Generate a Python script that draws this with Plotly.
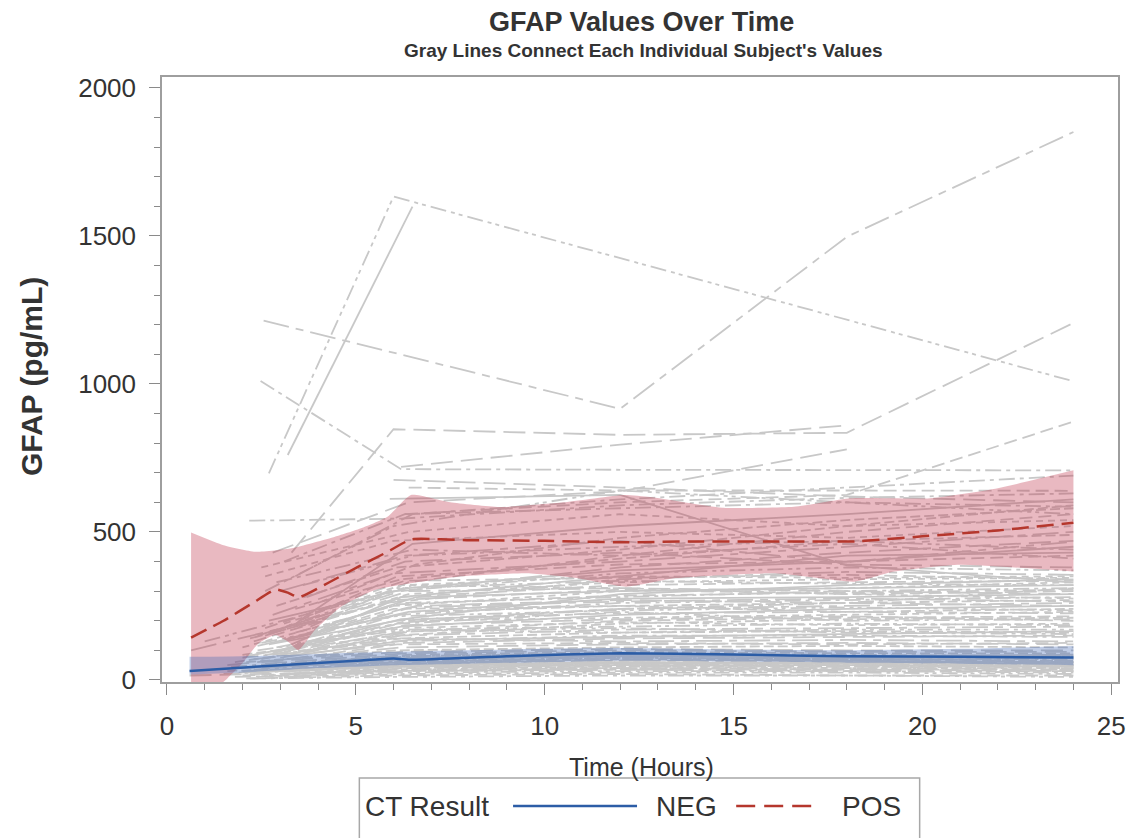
import plotly.graph_objects as go

# ---------------- data ----------------
# each subject row: (first_hour, first_gfap, second_hour, second_gfap, gfap_12h, gfap_18h, gfap_24h)
LATE_VISIT_HOURS = [12.0, 18.0, 24.0]

high_subjects = [
    (2.7, 698, 6.0, 1633, None, None, 1009),
    (3.2, 760, 6.5, 1599, None, None, None),
    (2.56, 1214, None, None, 916, 1497, 1851),
    (2.48, 1010, 6.2, 712, 710, 708, 708),
    (3.3, 430, 6.0, 847, 828, 835, 1206),
    (None, None, 6.2, 720, 795, 860, None),
    (None, None, 6.3, 560, 600, 625, 873),
    (2.8, 430, 6.4, 600, 637, 779, None),
    (None, None, 5.9, 612, 625, 387, 329),
    (None, None, 6.4, 650, 640, 640, 639),
    (2.18, 538, 6.2, 545, 590, 615, 630),
]

upper_mid_subjects = [
    (None, None, 6.0, 676, 650, 620, 600),
    (3.4, 350, 6.5, 560, 610, 650, 690),
    (2.6, 300, 6.0, 520, 640, 600, 560),
]

mid_subjects = [
    (3.0, 300, 6.3, 420, 470, 398, 467),
    (2.9, 250, 6.1, 380, 440, 520, 590),
    (3.5, 200, 6.5, 460, 520, 560, 610),
    (2.6, 350, 6.0, 470, 500, 480, 520),
    (3.8, 180, 6.4, 330, 420, 500, 560),
    (2.4, 150, 6.2, 300, 380, 430, 470),
    (3.1, 400, 6.3, 560, 580, 600, 585),
    (3.6, 320, 6.5, 420, 450, 470, 440),
    (2.8, 220, 6.0, 360, 400, 450, 500),
    (4.0, 260, 6.6, 390, 480, 540, 580),
    (3.3, 120, 6.2, 280, 350, 420, 430),
    (2.5, 380, 6.4, 500, 560, 520, 540),
    (3.0, 170, 6.1, 350, 390, 400, 420),
    (3.7, 280, 6.3, 400, 430, 390, 380),
    (2.9, 330, 6.5, 440, 420, 460, 410),
    (1.0, 130, 6.0, 300, 360, 380, 370),
    (0.64, 100, 5.8, 260, 340, 365, 355),
    (3.4, 240, 6.2, 340, 410, 470, 490),
    (2.7, 200, 6.4, 310, 370, 400, 450),
]

low_subjects = [
    (2.0, 110, 6.0, 250, 300, 310, 330),
    (2.3, 130, 6.2, 280, 320, 330, 335),
    (2.6, 150, 6.4, 300, 310, 300, 290),
    (3.0, 100, 6.1, 220, 260, 270, 280),
    (3.4, 160, 6.3, 260, 280, 300, 310),
    (2.8, 90, 6.0, 200, 240, 250, 260),
    (3.2, 140, 6.5, 230, 250, 230, 240),
    (2.1, 80, 6.2, 180, 220, 240, 250),
    (3.6, 120, 6.4, 200, 210, 220, 230),
    (2.5, 70, 6.0, 160, 200, 210, 215),
    (3.9, 150, 6.6, 250, 270, 260, 250),
    (2.9, 110, 6.1, 190, 230, 200, 205),
    (2.4, 100, 6.3, 170, 180, 190, 185),
    (3.3, 90, 6.2, 150, 170, 175, 180),
    (1.8, 60, 6.0, 140, 160, 165, 160),
    (2.7, 120, 6.5, 210, 290, 320, 340),
    (3.5, 180, 6.4, 290, 330, 340, 345),
    (2.2, 140, 6.1, 270, 305, 290, 300),
    (3.1, 95, 6.3, 185, 205, 215, 200),
    (2.0, 75, 6.0, 130, 150, 150, 145),
    (3.8, 110, 6.6, 170, 160, 170, 170),
    (2.6, 85, 6.2, 140, 130, 135, 130),
    (3.0, 130, 6.0, 240, 250, 260, 270),
    (2.4, 115, 6.4, 230, 275, 280, 290),
    (3.7, 200, 6.5, 320, 310, 290, 275),
    (2.9, 65, 6.1, 120, 125, 120, 125),
    (1.6, 50, 6.2, 110, 120, 125, 120),
    (3.3, 105, 6.3, 195, 240, 260, 310),
    (2.5, 125, 6.0, 215, 235, 245, 235),
    (3.5, 145, 6.4, 245, 265, 275, 265),
    (2.1, 60, 6.1, 100, 110, 115, 110),
    (3.9, 170, 6.6, 280, 300, 310, 320),
    (2.8, 95, 6.2, 175, 195, 185, 190),
    (3.2, 135, 6.0, 255, 285, 295, 305),
    (2.3, 70, 6.3, 125, 140, 145, 150),
    (3.6, 90, 6.5, 165, 175, 160, 155),
    (2.7, 160, 6.1, 310, 335, 325, 320),
    (3.4, 115, 6.2, 205, 225, 230, 225),
    (2.0, 85, 6.0, 150, 190, 205, 210),
    (3.0, 75, 6.4, 135, 145, 155, 165),
    (3.1, 190, 6.2, 320, 350, 345, 350),
    (2.6, 175, 6.3, 335, 345, 355, 340),
]

floor_subjects = [
    (0.6, 15, 6.0, 30, 40, 35, 30),
    (1.5, 20, 6.1, 45, 55, 50, 50),
    (1.8, 10, 6.2, 25, 30, 30, 25),
    (2.0, 30, 6.3, 55, 70, 65, 60),
    (2.2, 25, 6.0, 50, 60, 55, 55),
    (2.5, 40, 6.4, 70, 80, 75, 75),
    (2.7, 15, 6.1, 35, 45, 40, 40),
    (3.0, 35, 6.2, 60, 75, 70, 65),
    (3.2, 20, 6.5, 40, 50, 45, 45),
    (1.7, 45, 6.0, 80, 90, 85, 80),
    (2.4, 10, 6.3, 20, 25, 25, 20),
    (3.5, 30, 6.1, 55, 65, 60, 60),
    (2.9, 50, 6.4, 85, 95, 90, 90),
    (1.9, 25, 6.2, 45, 50, 50, 45),
    (3.8, 40, 6.6, 65, 70, 70, 65),
    (2.1, 5, 6.0, 15, 20, 15, 15),
    (2.6, 55, 6.3, 90, 100, 95, 95),
    (3.3, 20, 6.2, 35, 40, 40, 35),
    (2.3, 35, 6.1, 65, 75, 70, 70),
    (3.1, 10, 6.4, 30, 35, 30, 30),
    (1.6, 30, 6.0, 50, 60, 55, 50),
    (2.8, 45, 6.5, 75, 85, 80, 85),
    (3.6, 25, 6.3, 45, 55, 50, 50),
    (2.0, 15, 6.1, 30, 35, 35, 35),
    (2.5, 60, 6.2, 95, 105, 100, 100),
    (3.4, 50, 6.4, 80, 90, 80, 80),
    (2.2, 5, 6.0, 10, 15, 15, 10),
    (1.8, 40, 6.3, 60, 65, 65, 60),
    (3.0, 20, 6.1, 40, 45, 45, 40),
    (2.6, 30, 6.2, 50, 55, 60, 55),
]

# smoothed fits and confidence bands
pos_fit_hours = [0.64, 1.5, 2.3, 2.88, 3.2, 3.49, 4.3, 5.07, 5.8, 6.47, 8, 10, 12.07, 14, 16, 18.2, 20, 22, 24]
pos_fit_gfap = [143, 200, 262, 306, 295, 279, 330, 383, 430, 475, 472, 470, 465, 468, 468, 468, 485, 505, 531]

pos_upper_hours = [0.64, 1.5, 2.34, 3.3, 4.45, 5.2, 5.85, 6.46, 7.5, 8.8, 10.5, 12.1, 12.8, 14.7, 16.6, 18.1, 20.2, 22.0, 24.0]
pos_upper_gfap = [498, 455, 433, 445, 484, 515, 552, 625, 600, 584, 600, 625, 618, 582, 585, 614, 614, 648, 708]
pos_lower_hours = [0.64, 1.1, 1.6, 2.0, 2.43, 2.87, 3.2, 3.48, 3.92, 4.62, 5.5, 6.46, 7.69, 9.53, 10.84, 12.16, 13.47, 16.1, 18.2, 19.26, 21.0, 24.0]
pos_lower_gfap = [-60, -45, 5, 56, 124, 152, 130, 101, 169, 248, 304, 327, 349, 360, 344, 315, 344, 360, 332, 366, 389, 366]

neg_fit_hours = [0.6, 3, 5, 6.0, 6.5, 9, 12, 15, 18, 21, 24]
neg_fit_gfap = [30, 50, 65, 72, 68, 80, 90, 86, 80, 78, 76]
neg_band_hours = [0.6, 2, 4, 6, 8, 10, 12, 15, 18, 21, 24]
neg_band_upper = [78, 80, 88, 95, 100, 105, 108, 103, 100, 105, 115]
neg_band_lower = [18, 25, 40, 50, 55, 60, 65, 62, 58, 55, 50]

legend_labels = ["NEG", "POS"]

# ---------------- styling ----------------
FONT = "Liberation Sans, Arial, Helvetica, sans-serif"
TXT = "#333333"
GRAY = "#C8C8C8"
RED = "#B5372D"
BLUE = "#2C5DA6"
PATTERNS = ["solid", "7px,5px", "13px,6px", "22px,8px", "16px,5px,4px,5px",
            "16px,5px,4px,4px,4px,5px", "26px,7px,8px,7px", "10px,4px"]
HIGH_PATTERN_IDX = [5, 0, 6, 4, 3, 3, 2, 3, 0, 2, 4]

# page body has an 8px margin: figure is sized/offset so plot lands on screen target
OFF = 8
W, H = 1130, 830
SCR_L, SCR_R, SCR_T, SCR_B = 162, 1126, 77, 682   # plot area on screen
L = SCR_L - OFF
T = SCR_T - OFF
R = W - (SCR_R - OFF)
B = H - (SCR_B - OFF)


def px_x(px):
    return (px - SCR_L) / (SCR_R - SCR_L)


def px_y(py):
    return (SCR_B - py) / (SCR_B - SCR_T)


fig = go.Figure()

k = 0
for g_i, group in enumerate([high_subjects, upper_mid_subjects, mid_subjects, low_subjects, floor_subjects]):
    for s_i, row in enumerate(group):
        t0, g0, t1, g1, g12, g18, g24 = row
        xs, ys = [], []
        for t, v in zip([t0, t1] + LATE_VISIT_HOURS, [g0, g1, g12, g18, g24]):
            if t is not None and v is not None:
                xs.append(t)
                ys.append(v)
        pat = PATTERNS[HIGH_PATTERN_IDX[s_i]] if g_i == 0 else PATTERNS[k % len(PATTERNS)]
        k += 1
        fig.add_trace(go.Scatter(x=xs, y=ys, mode="lines",
                                 line=dict(color=GRAY, width=1.8, dash=pat),
                                 showlegend=False, hoverinfo="skip"))

# POS band
fig.add_trace(go.Scatter(x=pos_lower_hours, y=pos_lower_gfap, mode="lines",
                         line=dict(width=0, shape="spline", smoothing=0.5),
                         showlegend=False, hoverinfo="skip"))
fig.add_trace(go.Scatter(x=pos_upper_hours, y=pos_upper_gfap, mode="lines",
                         line=dict(width=0, shape="spline", smoothing=0.5),
                         fill="tonexty", fillcolor="rgba(189,41,66,0.33)",
                         showlegend=False, hoverinfo="skip"))
# NEG band
fig.add_trace(go.Scatter(x=neg_band_hours, y=neg_band_lower, mode="lines",
                         line=dict(width=0, shape="spline", smoothing=0.5),
                         showlegend=False, hoverinfo="skip"))
fig.add_trace(go.Scatter(x=neg_band_hours, y=neg_band_upper, mode="lines",
                         line=dict(width=0, shape="spline", smoothing=0.5),
                         fill="tonexty", fillcolor="rgba(60,100,180,0.33)",
                         showlegend=False, hoverinfo="skip"))

fig.add_trace(go.Scatter(x=pos_fit_hours, y=pos_fit_gfap, mode="lines", name=legend_labels[1],
                         line=dict(color=RED, width=2.5, dash="17px,8px", shape="spline", smoothing=0.4),
                         showlegend=False))
fig.add_trace(go.Scatter(x=neg_fit_hours, y=neg_fit_gfap, mode="lines", name=legend_labels[0],
                         line=dict(color=BLUE, width=2.5, shape="spline", smoothing=0.5),
                         showlegend=False))

# custom legend (box, line samples, labels)
leg_y = px_y(806)
shapes = [
    dict(type="rect", xref="paper", yref="paper", x0=px_x(361), x1=px_x(926),
         y0=px_y(850), y1=px_y(778), line=dict(color="#A8A8A8", width=1.5),
         fillcolor="white", layer="above"),
    dict(type="line", xref="paper", yref="paper", x0=px_x(516), x1=px_x(641),
         y0=leg_y, y1=leg_y, line=dict(color=BLUE, width=2.5)),
    dict(type="line", xref="paper", yref="paper", x0=px_x(741), x1=px_x(824),
         y0=leg_y, y1=leg_y, line=dict(color=RED, width=2.5, dash="19px,9px")),
]

annotations = [
    dict(text="<b>GFAP Values Over Time</b>", x=px_x(646), y=px_y(22), xref="paper", yref="paper",
         showarrow=False, xanchor="center", yanchor="middle", font=dict(size=27, color=TXT, family=FONT)),
    dict(text="<b>Gray Lines Connect Each Individual Subject's Values</b>", x=px_x(648), y=px_y(51),
         xref="paper", yref="paper", showarrow=False, xanchor="center", yanchor="middle",
         font=dict(size=19, color=TXT, family=FONT)),
    dict(text="Time (Hours)", x=px_x(646), y=px_y(767), xref="paper", yref="paper",
         showarrow=False, xanchor="center", yanchor="middle", font=dict(size=25, color=TXT, family=FONT)),
    dict(text="<b>GFAP (pg/mL)</b>", x=px_x(30), y=px_y(377), xref="paper", yref="paper",
         showarrow=False, xanchor="center", yanchor="middle", textangle=-90,
         font=dict(size=30, color=TXT, family=FONT)),
    dict(text="CT Result", x=px_x(365), y=leg_y, xref="paper", yref="paper", showarrow=False,
         xanchor="left", yanchor="middle", font=dict(size=28, color=TXT, family=FONT)),
    dict(text=legend_labels[0], x=px_x(658), y=leg_y, xref="paper", yref="paper", showarrow=False,
         xanchor="left", yanchor="middle", font=dict(size=28, color=TXT, family=FONT)),
    dict(text=legend_labels[1], x=px_x(846), y=leg_y, xref="paper", yref="paper", showarrow=False,
         xanchor="left", yanchor="middle", font=dict(size=28, color=TXT, family=FONT)),
]

axis_common = dict(showline=True, linecolor="#9E9E9E", linewidth=1.5, mirror=True,
                   showgrid=False, zeroline=False, ticks="outside", ticklen=11,
                   tickcolor="#8A8A8A", tickwidth=1.3,
                   tickfont=dict(size=26, color=TXT, family=FONT))

fig.update_layout(
    width=W, height=H,
    margin=dict(l=L, r=R, t=T, b=B),
    plot_bgcolor="white", paper_bgcolor="white",
    showlegend=False,
    shapes=shapes, annotations=annotations,
    xaxis=dict(range=[-0.13, 25.18], tickmode="array", tickvals=[0, 5, 10, 15, 20, 25],
               minor=dict(dtick=1, ticklen=6, tickcolor="#8A8A8A", ticks="outside"),
               ticklabelstandoff=9, **axis_common),
    yaxis=dict(range=[-7, 2037], tickmode="array", tickvals=[0, 500, 1000, 1500, 2000],
               minor=dict(dtick=100, ticklen=6, tickcolor="#8A8A8A", ticks="outside"),
               ticklabelstandoff=8, **axis_common),
)

fig.write_html("out.html")
